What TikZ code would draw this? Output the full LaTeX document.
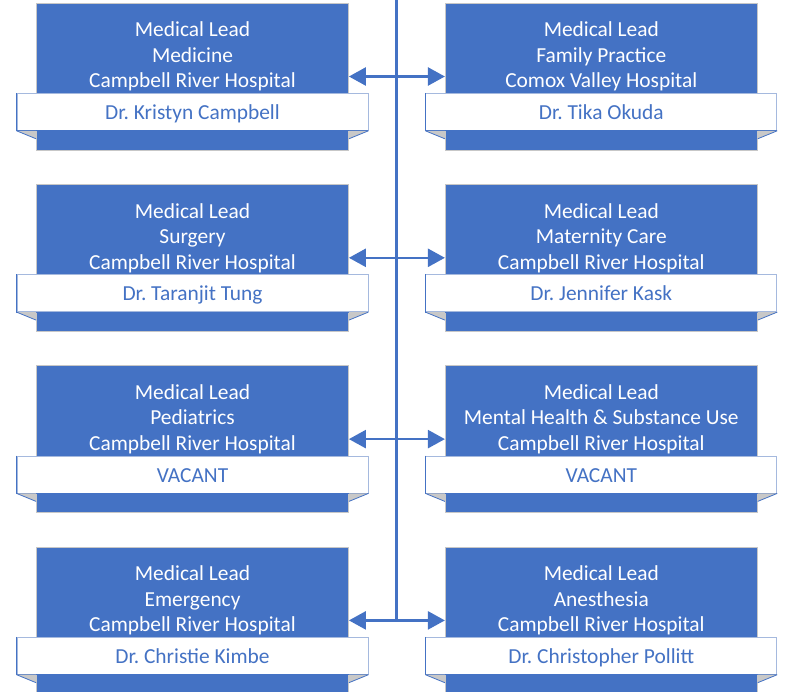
\documentclass[tikz,border=0pt]{standalone}
\usepackage{fontspec}
\setmainfont{Carlito}
\usetikzlibrary{positioning,arrows.meta}
\definecolor{leadblue}{RGB}{68,114,196}
\definecolor{barline}{RGB}{165,185,222}
\definecolor{foldgray}{RGB}{200,200,200}
\tikzset{
  lead box/.style={rectangle,draw=black!22,line width=0.8pt,fill=leadblue,
    minimum width=312pt,minimum height=147pt,inner sep=0pt},
  lead title/.style={text=white,align=center,inner sep=0pt,
    font=\fontsize{21.4}{25.5}\selectfont\frenchspacing},
  name bar/.style={rectangle,draw=barline,line width=0.8pt,fill=white,text=leadblue,
    minimum width=351pt,minimum height=37pt,inner sep=0pt,
    text height=19.5pt,text depth=4pt,
    font=\fontsize{21.4}{25.5}\selectfont\frenchspacing},
  fold/.style={fill=foldgray},
  bar edge/.style={leadblue,line width=0.8pt},
  link/.style={leadblue,line width=2.5pt,
    {Triangle[length=17pt,width=18pt]}-{Triangle[length=17pt,width=18pt]}},
  spine/.style={leadblue,line width=2.5pt},
}

\begin{document}
\begin{tikzpicture}[x=1pt,y=-1pt]
  \useasboundingbox (0,0) rectangle (787,691);

  % lead boxes
  \node[lead box] (medicine) at (192.5,76.5) {};
  \node[lead box] (family) [right=96pt of medicine] {};
  \node[lead box] (surgery) [below=33.5pt of medicine] {};
  \node[lead box] (maternity) [right=96pt of surgery] {};
  \node[lead box] (pediatrics) [below=33.5pt of surgery] {};
  \node[lead box] (mental) [right=96pt of pediatrics] {};
  \node[lead box] (emergency) [below=33.5pt of pediatrics] {};
  \node[lead box] (anesthesia) [right=96pt of emergency] {};

  % titles and name bars
  \foreach \b/\dept/\site/\who in {
      medicine/Medicine/Campbell River Hospital/Dr. Kristyn Campbell,
      family/Family Practice/Comox Valley Hospital/Dr. Tika Okuda,
      surgery/Surgery/Campbell River Hospital/Dr. Taranjit Tung,
      maternity/Maternity Care/Campbell River Hospital/Dr. Jennifer Kask,
      pediatrics/Pediatrics/Campbell River Hospital/VACANT,
      mental/Mental Health \& Substance Use/Campbell River Hospital/VACANT,
      emergency/Emergency/Campbell River Hospital/Dr. Christie Kimbe,
      anesthesia/Anesthesia/Campbell River Hospital/Dr. Christopher Pollitt}{
    \node[lead title] (\b-t) at ([yshift=-54pt]\b.north) {Medical Lead\\\dept\\\site};
    \node[name bar] (\b-n) at ([yshift=38.5pt]\b.south) {\who};
    \draw[bar edge] (\b-n.north west) -- (\b-n.south west) -- (\b-n.south east);
    \fill[fold] (\b-n.south west) -- (\b.west |- \b-n.south) -- ++(0,8) -- cycle;
    \fill[fold] (\b-n.south east) -- (\b.east |- \b-n.south) -- ++(0,8) -- cycle;
    \draw[bar edge] (\b.west |- \b-n.south) ++(0,8) -- (\b-n.south west);
    \draw[bar edge] (\b.east |- \b-n.south) ++(0,8) -- (\b-n.south east);
  }

  % connectors
  \coordinate (spine top) at (396.5,-5);
  \draw[spine] (spine top) -- (spine top |- emergency.east);
  \draw[link] (medicine) -- (family);
  \draw[link] (surgery) -- (maternity);
  \draw[link] (pediatrics) -- (mental);
  \draw[link] (emergency) -- (anesthesia);
\end{tikzpicture}
\end{document}
